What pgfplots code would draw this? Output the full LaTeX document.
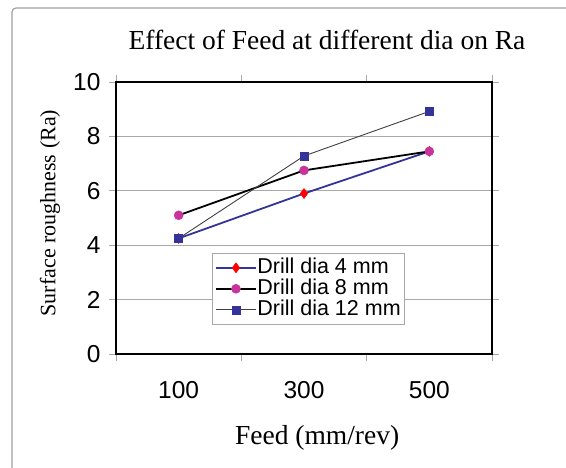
\documentclass[border=0pt]{standalone}
\usepackage{fontspec}
\setmainfont{Liberation Serif}
\setsansfont{Liberation Sans}
\usepackage{pgfplots}
\pgfplotsset{compat=1.18}
\definecolor{navy}{HTML}{333399}
\definecolor{mag}{HTML}{C8349C}
\definecolor{gridgray}{HTML}{A8A8A8}
\definecolor{framegray}{HTML}{A0A0A0}
\begin{document}
\begin{tikzpicture}
\path[use as bounding box] (0pt,0pt) rectangle (566pt,468pt);
\draw[framegray, line width=1.2pt, rounded corners=4pt] (12pt,-5pt) -- (12pt,460pt) -- (575pt,460pt);
\node[anchor=base, font=\fontsize{27.5}{31}\selectfont] at (327pt,418pt) {Effect of Feed at different dia on Ra};
\begin{axis}[
  at={(116pt,114pt)}, anchor=south west,
  width=376pt, height=272pt, scale only axis,
  xmin=0, xmax=3, ymin=0, ymax=10,
  xtick={0,1,2,3}, xticklabels={},
  extra x ticks={0.5,1.5,2.5},
  extra x tick labels={100,300,500},
  extra x tick style={major tick length=0pt, grid=none, xticklabel style={yshift=-24pt}},
  ytick={0,2,...,10},
  ymajorgrids, major grid style={gridgray, line width=0.8pt},
  tick align=outside, major tick length=7pt,
  tick style={gridgray, line width=0.8pt},
  axis line style={black, line width=1.8pt},
  /pgf/number format/assume math mode=true,
  ticklabel style={font=\sffamily\fontsize{24.5}{28}\selectfont},
  yticklabel style={xshift=-5pt},
  ylabel={Surface roughness (Ra)},
  ylabel style={at={(axis description cs:-0.1755,0.518)}, anchor=center, font=\fontsize{22}{25}\selectfont},
  xlabel={Feed (mm/rev)},
  xlabel style={at={(axis description cs:0.535,-0.309)}, anchor=center, font=\fontsize{27.5}{31}\selectfont},
  legend style={at={(axis description cs:0.255,0.371)}, anchor=north west,
    draw=gridgray, font=\sffamily\fontsize{21.5}{24}\selectfont,
    row sep=0pt, inner xsep=3pt, inner ysep=4pt,
    nodes={text height=15.5pt, text depth=4.5pt, inner sep=0.5pt, anchor=west}},
  legend cell align=left,
  legend image code/.code={\draw[mark repeat=2,mark phase=2,#1] plot coordinates {(0pt,0pt) (20pt,0pt) (40pt,0pt)};},
]
\addplot[navy, line width=1.8pt, mark=diamond*, mark size=5pt, mark options={fill=red, draw=red, line width=0.5pt}]
  coordinates {(0.5,4.25) (1.5,5.9) (2.5,7.45)};
\addlegendentry{Drill dia 4 mm}
\addplot[black, line width=1.8pt, mark=*, mark size=4.5pt, mark options={fill=mag, draw=mag, line width=0.5pt}]
  coordinates {(0.5,5.1) (1.5,6.75) (2.5,7.45)};
\addlegendentry{Drill dia 8 mm}
\addplot[black!75, line width=0.9pt, mark=square*, mark size=4pt, mark options={fill=navy, draw=navy, line width=0.5pt}]
  coordinates {(0.5,4.25) (1.5,7.28) (2.5,8.92)};
\addlegendentry{Drill dia 12 mm}
\end{axis}
\end{tikzpicture}
\end{document}
